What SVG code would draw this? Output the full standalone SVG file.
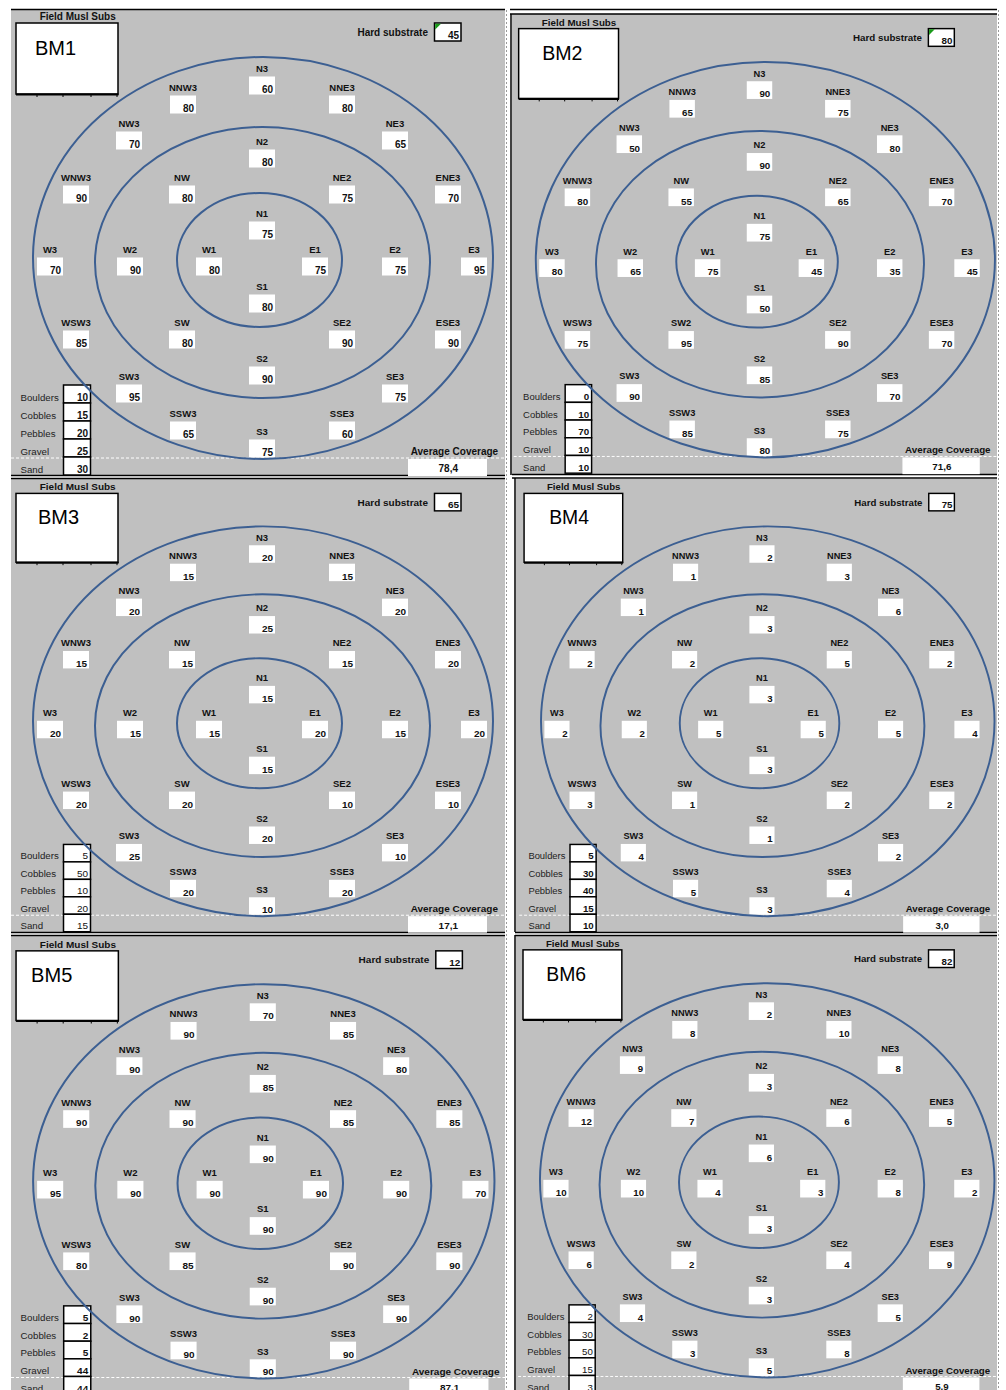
<svg xmlns="http://www.w3.org/2000/svg" xmlns:xlink="http://www.w3.org/1999/xlink" width="1006" height="1390" viewBox="0 0 1006 1390">
<style>
text{font-family:"Liberation Sans",Arial,sans-serif}
.lb{font-size:9.5px;font-weight:bold;text-anchor:middle;fill:#111}
.v{font-size:10px;font-weight:bold;text-anchor:end;fill:#111}
.vr{font-size:10px;font-weight:normal;text-anchor:end;fill:#111}
.bx{fill:#fff}
.cell{fill:#fff;stroke:#000;stroke-width:1.5}
.lg{font-size:9.7px;fill:#222}
.ti{font-size:10px;font-weight:bold;fill:#111}
.nm{font-size:20px;fill:#000}
.ring{fill:none;stroke:#3c5f92;stroke-width:2}
.pg{fill:#c0c0c0}
.bl{stroke:#000;stroke-width:1.5}
.dv{stroke:#999;stroke-width:1;stroke-dasharray:2 2}
</style>
<defs>
<g id="frame">
<line x1="11" y1="458" x2="505" y2="458" stroke="#fff" stroke-width="1" stroke-dasharray="3 2"/>
<text class="ti" x="77.7" y="20" text-anchor="middle">Field Musl Subs</text>
<rect x="16" y="23" width="102" height="71" fill="#fff" stroke="#000" stroke-width="1.5"/>
<line x1="16" y1="94.5" x2="118.5" y2="94.5" stroke="#000" stroke-width="2"/>
<path d="M37 95v2M63 95v2M91 95v2M117 95v2" stroke="#000" stroke-width="1"/>
<text class="ti" x="428" y="35.5" text-anchor="end">Hard substrate</text>
<rect x="434.5" y="23" width="26.5" height="18" fill="#fff" stroke="#000" stroke-width="1.5"/>
<text class="lg" x="20.5" y="400.5">Boulders</text>
<text class="lg" x="20.5" y="418.5">Cobbles</text>
<text class="lg" x="20.5" y="436.5">Pebbles</text>
<text class="lg" x="20.5" y="454.5">Gravel</text>
<text class="lg" x="20.5" y="472.5">Sand</text>
<rect class="cell" x="63.5" y="385" width="27" height="18"/>
<rect class="cell" x="63.5" y="403" width="27" height="18"/>
<rect class="cell" x="63.5" y="421" width="27" height="18"/>
<rect class="cell" x="63.5" y="439" width="27" height="18"/>
<rect class="cell" x="63.5" y="457" width="27" height="18"/>
<text class="ti" x="410.7" y="455">Average Coverage</text>
<rect class="bx" x="408" y="459" width="79" height="17"/>
<rect class="bx" x="249" y="76.5" width="26" height="18"/><text class="lb" x="262" y="71.7">N3</text>
<rect class="bx" x="170" y="95.5" width="26" height="18"/><text class="lb" x="183" y="90.7">NNW3</text>
<rect class="bx" x="329" y="95.5" width="26" height="18"/><text class="lb" x="342" y="90.7">NNE3</text>
<rect class="bx" x="116" y="131.5" width="26" height="18"/><text class="lb" x="129" y="126.7">NW3</text>
<rect class="bx" x="382" y="131.5" width="26" height="18"/><text class="lb" x="395" y="126.7">NE3</text>
<rect class="bx" x="249" y="149.5" width="26" height="18"/><text class="lb" x="262" y="144.7">N2</text>
<rect class="bx" x="63" y="185.5" width="26" height="18"/><text class="lb" x="76" y="180.7">WNW3</text>
<rect class="bx" x="169" y="185.5" width="26" height="18"/><text class="lb" x="182" y="180.7">NW</text>
<rect class="bx" x="329" y="185.5" width="26" height="18"/><text class="lb" x="342" y="180.7">NE2</text>
<rect class="bx" x="435" y="185.5" width="26" height="18"/><text class="lb" x="448" y="180.7">ENE3</text>
<rect class="bx" x="249" y="221.5" width="26" height="18"/><text class="lb" x="262" y="216.7">N1</text>
<rect class="bx" x="37" y="257.5" width="26" height="18"/><text class="lb" x="50" y="252.7">W3</text>
<rect class="bx" x="117" y="257.5" width="26" height="18"/><text class="lb" x="130" y="252.7">W2</text>
<rect class="bx" x="196" y="257.5" width="26" height="18"/><text class="lb" x="209" y="252.7">W1</text>
<rect class="bx" x="302" y="257.5" width="26" height="18"/><text class="lb" x="315" y="252.7">E1</text>
<rect class="bx" x="382" y="257.5" width="26" height="18"/><text class="lb" x="395" y="252.7">E2</text>
<rect class="bx" x="461" y="257.5" width="26" height="18"/><text class="lb" x="474" y="252.7">E3</text>
<rect class="bx" x="249" y="294.5" width="26" height="18"/><text class="lb" x="262" y="289.7">S1</text>
<rect class="bx" x="63" y="330.5" width="26" height="18"/><text class="lb" x="76" y="325.7">WSW3</text>
<rect class="bx" x="169" y="330.5" width="26" height="18"/>
<rect class="bx" x="329" y="330.5" width="26" height="18"/><text class="lb" x="342" y="325.7">SE2</text>
<rect class="bx" x="435" y="330.5" width="26" height="18"/><text class="lb" x="448" y="325.7">ESE3</text>
<rect class="bx" x="249" y="366.5" width="26" height="18"/><text class="lb" x="262" y="361.7">S2</text>
<rect class="bx" x="116" y="384.5" width="26" height="18"/><text class="lb" x="129" y="379.7">SW3</text>
<rect class="bx" x="382" y="384.5" width="26" height="18"/><text class="lb" x="395" y="379.7">SE3</text>
<rect class="bx" x="170" y="421.5" width="26" height="18"/><text class="lb" x="183" y="416.7">SSW3</text>
<rect class="bx" x="329" y="421.5" width="26" height="18"/><text class="lb" x="342" y="416.7">SSE3</text>
<rect class="bx" x="249" y="439.5" width="26" height="18"/><text class="lb" x="262" y="434.7">S3</text>
</g>
<g id="rings">
<ellipse class="ring" cx="262.5" cy="262.5" rx="167.5" ry="135.5"/>
<ellipse class="ring" cx="259.5" cy="260" rx="82.5" ry="67"/>
</g>
<ellipse id="outerL" class="ring" cx="263" cy="258" rx="230" ry="201"/>
<ellipse id="outerR" class="ring" cx="268" cy="258" rx="234.5" ry="201"/>
<polygon id="flag" points="435.2,23.7 441,23.7 435.2,29.5" fill="#1a9a1a"/>
</defs>

<rect width="1006" height="1390" fill="#fff"/>
<g id="backgrounds">
<rect class="pg" x="11" y="10" width="494" height="465"/>
<rect class="pg" x="512" y="14" width="485" height="460"/>
<rect class="pg" x="11" y="479" width="494" height="453"/>
<rect class="pg" x="516" y="479" width="481" height="453"/>
<rect class="pg" x="11" y="936" width="494" height="454"/>
<rect class="pg" x="516" y="936" width="481" height="454"/>
<line class="bl" x1="11" y1="9.5" x2="505" y2="9.5"/>
<line class="bl" x1="510" y1="9.5" x2="997" y2="9.5"/>
<line class="bl" x1="510" y1="14" x2="997" y2="14"/>
<line class="bl" x1="511" y1="14" x2="511" y2="475"/>
<line class="bl" x1="11" y1="475.5" x2="505" y2="475.5"/>
<line class="bl" x1="11" y1="478.5" x2="505" y2="478.5" stroke-width="1.2"/>
<line class="bl" x1="512" y1="474.5" x2="997" y2="474.5"/>
<line class="bl" x1="512" y1="478" x2="997" y2="478" stroke-width="1.2"/>
<line class="bl" x1="515" y1="478" x2="515" y2="932"/>
<line class="bl" x1="11" y1="932.5" x2="505" y2="932.5"/>
<line class="bl" x1="11" y1="935.5" x2="505" y2="935.5" stroke-width="1.2"/>
<line class="bl" x1="515" y1="932.5" x2="997" y2="932.5"/>
<line class="bl" x1="515" y1="935.5" x2="997" y2="935.5" stroke-width="1.2"/>
<line class="bl" x1="515" y1="935" x2="515" y2="1390"/>
<line class="dv" x1="506.5" y1="10" x2="506.5" y2="1390"/>
<line class="dv" x1="998.5" y1="10" x2="998.5" y2="1390"/>
</g>

<g id="bm1">
<use href="#frame"/><use href="#flag"/>
<text class="lb" x="182" y="325.7">SW</text>
<text class="nm" x="35" y="55">BM1</text>
<text class="v" x="459" y="38.5">45</text>
<text class="v" x="88" y="400.5">10</text><text class="v" x="88" y="418.5">15</text><text class="v" x="88" y="436.5">20</text><text class="v" x="88" y="454.5">25</text><text class="v" x="88" y="472.5">30</text>
<text class="v" x="448.3" y="472" style="text-anchor:middle">78,4</text>
<text class="v" x="273" y="93">60</text><text class="v" x="194" y="112">80</text><text class="v" x="353" y="112">80</text><text class="v" x="140" y="148">70</text><text class="v" x="406" y="148">65</text><text class="v" x="273" y="166">80</text><text class="v" x="87" y="202">90</text><text class="v" x="193" y="202">80</text><text class="v" x="353" y="202">75</text><text class="v" x="459" y="202">70</text><text class="v" x="273" y="238">75</text><text class="v" x="61" y="274">70</text><text class="v" x="141" y="274">90</text><text class="v" x="220" y="274">80</text><text class="v" x="326" y="274">75</text><text class="v" x="406" y="274">75</text><text class="v" x="485" y="274">95</text><text class="v" x="273" y="311">80</text><text class="v" x="87" y="347">85</text><text class="v" x="193" y="347">80</text><text class="v" x="353" y="347">90</text><text class="v" x="459" y="347">90</text><text class="v" x="273" y="383">90</text><text class="v" x="140" y="401">95</text><text class="v" x="406" y="401">75</text><text class="v" x="194" y="438">65</text><text class="v" x="353" y="438">60</text><text class="v" x="273" y="456">75</text>
<use href="#rings"/><use href="#outerL"/>
</g>

<g id="bm2" transform="matrix(0.979,0,0,0.9835,503,6)">
<use href="#frame"/><use href="#flag"/>
<text class="lb" x="182" y="325.7">SW2</text>
<text class="nm" x="40" y="55">BM2</text>
<text class="v" x="459" y="38.5">80</text>
<text class="v" x="88" y="400.5">0</text><text class="v" x="88" y="418.5">10</text><text class="v" x="88" y="436.5">70</text><text class="v" x="88" y="454.5">10</text><text class="v" x="88" y="472.5">10</text>
<text class="v" x="448.3" y="472" style="text-anchor:middle">71,6</text>
<text class="v" x="273" y="93">90</text><text class="v" x="194" y="112">65</text><text class="v" x="353" y="112">75</text><text class="v" x="140" y="148">50</text><text class="v" x="406" y="148">80</text><text class="v" x="273" y="166">90</text><text class="v" x="87" y="202">80</text><text class="v" x="193" y="202">55</text><text class="v" x="353" y="202">65</text><text class="v" x="459" y="202">70</text><text class="v" x="273" y="238">75</text><text class="v" x="61" y="274">80</text><text class="v" x="141" y="274">65</text><text class="v" x="220" y="274">75</text><text class="v" x="326" y="274">45</text><text class="v" x="406" y="274">35</text><text class="v" x="485" y="274">45</text><text class="v" x="273" y="311">50</text><text class="v" x="87" y="347">75</text><text class="v" x="193" y="347">95</text><text class="v" x="353" y="347">90</text><text class="v" x="459" y="347">70</text><text class="v" x="273" y="383">85</text><text class="v" x="140" y="401">90</text><text class="v" x="406" y="401">70</text><text class="v" x="194" y="438">85</text><text class="v" x="353" y="438">75</text><text class="v" x="273" y="456">80</text>
<use href="#rings"/><use href="#outerR"/>
</g>

<g id="bm3" transform="matrix(1,0,0,0.9697,0,471.1)">
<use href="#frame"/>
<text class="lb" x="182" y="325.7">SW</text>
<text class="nm" x="38" y="55">BM3</text>
<text class="v" x="459" y="38.5">65</text>
<text class="vr" x="88" y="400.5">5</text><text class="vr" x="88" y="418.5">50</text><text class="vr" x="88" y="436.5">10</text><text class="vr" x="88" y="454.5">20</text><text class="vr" x="88" y="472.5">15</text>
<text class="v" x="448.3" y="472" style="text-anchor:middle">17,1</text>
<text class="v" x="273" y="93">20</text><text class="v" x="194" y="112">15</text><text class="v" x="353" y="112">15</text><text class="v" x="140" y="148">20</text><text class="v" x="406" y="148">20</text><text class="v" x="273" y="166">25</text><text class="v" x="87" y="202">15</text><text class="v" x="193" y="202">15</text><text class="v" x="353" y="202">15</text><text class="v" x="459" y="202">20</text><text class="v" x="273" y="238">15</text><text class="v" x="61" y="274">20</text><text class="v" x="141" y="274">15</text><text class="v" x="220" y="274">15</text><text class="v" x="326" y="274">20</text><text class="v" x="406" y="274">15</text><text class="v" x="485" y="274">20</text><text class="v" x="273" y="311">15</text><text class="v" x="87" y="347">20</text><text class="v" x="193" y="347">20</text><text class="v" x="353" y="347">10</text><text class="v" x="459" y="347">10</text><text class="v" x="273" y="383">20</text><text class="v" x="140" y="401">25</text><text class="v" x="406" y="401">10</text><text class="v" x="194" y="438">20</text><text class="v" x="353" y="438">20</text><text class="v" x="273" y="456">10</text>
<use href="#rings"/><use href="#outerL"/>
</g>

<g id="bm4" transform="matrix(0.967,0,0,0.9697,508.6,471.1)">
<use href="#frame"/>
<text class="lb" x="182" y="325.7">SW</text>
<text class="nm" x="42" y="55">BM4</text>
<text class="v" x="459" y="38.5">75</text>
<text class="v" x="88" y="400.5">5</text><text class="v" x="88" y="418.5">30</text><text class="v" x="88" y="436.5">40</text><text class="v" x="88" y="454.5">15</text><text class="v" x="88" y="472.5">10</text>
<text class="v" x="448.3" y="472" style="text-anchor:middle">3,0</text>
<text class="v" x="273" y="93">2</text><text class="v" x="194" y="112">1</text><text class="v" x="353" y="112">3</text><text class="v" x="140" y="148">1</text><text class="v" x="406" y="148">6</text><text class="v" x="273" y="166">3</text><text class="v" x="87" y="202">2</text><text class="v" x="193" y="202">2</text><text class="v" x="353" y="202">5</text><text class="v" x="459" y="202">2</text><text class="v" x="273" y="238">3</text><text class="v" x="61" y="274">2</text><text class="v" x="141" y="274">2</text><text class="v" x="220" y="274">5</text><text class="v" x="326" y="274">5</text><text class="v" x="406" y="274">5</text><text class="v" x="485" y="274">4</text><text class="v" x="273" y="311">3</text><text class="v" x="87" y="347">3</text><text class="v" x="193" y="347">1</text><text class="v" x="353" y="347">2</text><text class="v" x="459" y="347">2</text><text class="v" x="273" y="383">1</text><text class="v" x="140" y="401">4</text><text class="v" x="406" y="401">2</text><text class="v" x="194" y="438">5</text><text class="v" x="353" y="438">4</text><text class="v" x="273" y="456">3</text>
<use href="#rings"/><use href="#outerR"/>
</g>

<g id="bm5" transform="matrix(1.003,0,0,0.9807,0,928.3)">
<use href="#frame"/>
<text class="lb" x="182" y="325.7">SW</text>
<text class="nm" x="31" y="55">BM5</text>
<text class="v" x="459" y="38.5">12</text>
<text class="v" x="88" y="400.5">5</text><text class="v" x="88" y="418.5">2</text><text class="v" x="88" y="436.5">5</text><text class="v" x="88" y="454.5">44</text><text class="v" x="88" y="472.5">44</text>
<text class="v" x="448.3" y="472" style="text-anchor:middle">87,1</text>
<text class="v" x="273" y="93">70</text><text class="v" x="194" y="112">90</text><text class="v" x="353" y="112">85</text><text class="v" x="140" y="148">90</text><text class="v" x="406" y="148">80</text><text class="v" x="273" y="166">85</text><text class="v" x="87" y="202">90</text><text class="v" x="193" y="202">90</text><text class="v" x="353" y="202">85</text><text class="v" x="459" y="202">85</text><text class="v" x="273" y="238">90</text><text class="v" x="61" y="274">95</text><text class="v" x="141" y="274">90</text><text class="v" x="220" y="274">90</text><text class="v" x="326" y="274">90</text><text class="v" x="406" y="274">90</text><text class="v" x="485" y="274">70</text><text class="v" x="273" y="311">90</text><text class="v" x="87" y="347">80</text><text class="v" x="193" y="347">85</text><text class="v" x="353" y="347">90</text><text class="v" x="459" y="347">90</text><text class="v" x="273" y="383">90</text><text class="v" x="140" y="401">90</text><text class="v" x="406" y="401">90</text><text class="v" x="194" y="438">90</text><text class="v" x="353" y="438">90</text><text class="v" x="273" y="456">90</text>
<use href="#rings"/><use href="#outerL"/>
</g>

<g id="bm6" transform="matrix(0.969,0,0,0.9807,507.5,927.3)">
<use href="#frame"/>
<text class="lb" x="182" y="325.7">SW</text>
<text class="nm" x="40" y="55">BM6</text>
<text class="v" x="459" y="38.5">82</text>
<text class="vr" x="88" y="400.5">2</text><text class="vr" x="88" y="418.5">30</text><text class="vr" x="88" y="436.5">50</text><text class="vr" x="88" y="454.5">15</text><text class="vr" x="88" y="472.5">3</text>
<text class="v" x="448.3" y="472" style="text-anchor:middle">5,9</text>
<text class="v" x="273" y="93">2</text><text class="v" x="194" y="112">8</text><text class="v" x="353" y="112">10</text><text class="v" x="140" y="148">9</text><text class="v" x="406" y="148">8</text><text class="v" x="273" y="166">3</text><text class="v" x="87" y="202">12</text><text class="v" x="193" y="202">7</text><text class="v" x="353" y="202">6</text><text class="v" x="459" y="202">5</text><text class="v" x="273" y="238">6</text><text class="v" x="61" y="274">10</text><text class="v" x="141" y="274">10</text><text class="v" x="220" y="274">4</text><text class="v" x="326" y="274">3</text><text class="v" x="406" y="274">8</text><text class="v" x="485" y="274">2</text><text class="v" x="273" y="311">3</text><text class="v" x="87" y="347">6</text><text class="v" x="193" y="347">2</text><text class="v" x="353" y="347">4</text><text class="v" x="459" y="347">9</text><text class="v" x="273" y="383">3</text><text class="v" x="140" y="401">4</text><text class="v" x="406" y="401">5</text><text class="v" x="194" y="438">3</text><text class="v" x="353" y="438">8</text><text class="v" x="273" y="456">5</text>
<use href="#rings"/><use href="#outerR"/>
</g>
</svg>
